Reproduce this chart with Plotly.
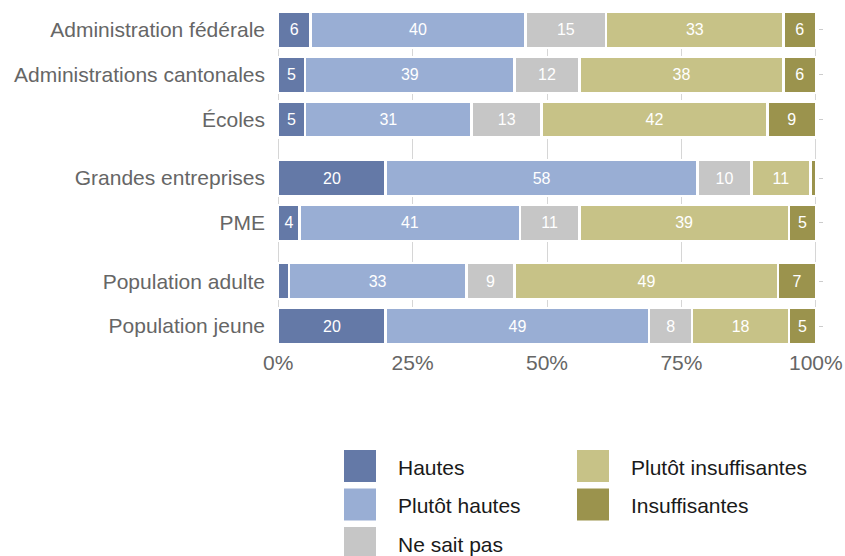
import plotly.graph_objects as go

# Categories, split into visual groups (a wider gap separates groups)
categories = [
    "Administration fédérale",
    "Administrations cantonales",
    "Écoles",
    "Grandes entreprises",
    "PME",
    "Population adulte",
    "Population jeune",
]
group_sizes = [3, 2, 2]

# Shares in percent per answer
series_names = ["Hautes", "Plutôt hautes", "Ne sait pas", "Plutôt insuffisantes", "Insuffisantes"]
hautes = [6, 5, 5, 20, 4, 2, 20]
plutot_hautes = [40, 39, 31, 58, 41, 33, 49]
ne_sait_pas = [15, 12, 13, 10, 11, 9, 8]
plutot_insuffisantes = [33, 38, 42, 11, 39, 49, 18]
insuffisantes = [6, 6, 9, 1, 5, 7, 5]
series_values = [hautes, plutot_hautes, ne_sait_pas, plutot_insuffisantes, insuffisantes]

x_ticks = [0, 25, 50, 75, 100]
x_tick_labels = ["0%", "25%", "50%", "75%", "100%"]

colors = ["#6479a7", "#99aed4", "#c6c6c6", "#c7c287", "#9b934d"]

FONT = "Liberation Sans, Helvetica, Arial, sans-serif"
W, H = 845, 556
L, R, T, B = 276, 27, 12, 212

# Row positions: one unit per bar, plus an extra gap between groups
GROUP_GAP = 0.3
positions = []
pos = 0.0
for gi, size in enumerate(group_sizes):
    for _ in range(size):
        positions.append(pos)
        pos += 1
    pos += GROUP_GAP
y_range = [positions[-1] + 0.4, positions[0] - 0.4]

fig = go.Figure()
for name, vals, col in zip(series_names, series_values, colors):
    fig.add_trace(go.Bar(
        name=name,
        orientation="h",
        x=vals,
        y=positions,
        width=0.8,
        marker=dict(color=col, line=dict(color="white", width=2.5)),
        text=[str(v) if v >= 3 else "" for v in vals],
        textposition="inside",
        insidetextanchor="middle",
        textangle=0,
        textfont=dict(color="white", size=16, family=FONT),
        hoverinfo="skip",
        showlegend=False,
    ))

# Invisible trace carrying the right-hand tick axis
fig.add_trace(go.Scatter(x=[None], y=[None], yaxis="y2", showlegend=False, hoverinfo="skip"))

fig.update_layout(
    width=W, height=H,
    margin=dict(l=L, r=R, t=T, b=B, autoexpand=False),
    barmode="stack",
    plot_bgcolor="white",
    paper_bgcolor="white",
    font=dict(family=FONT, size=21, color="#666666"),
    uniformtext=dict(minsize=16, mode="show"),
    xaxis=dict(
        range=[-0.4, 100.4],
        tickvals=x_ticks,
        ticktext=x_tick_labels,
        showgrid=True,
        gridcolor="#d6d6d6",
        gridwidth=1,
        zeroline=False,
        showline=False,
        ticks="",
        automargin=False,
        ticklabelstandoff=4,
        tickfont=dict(size=21, color="#666666"),
    ),
    yaxis=dict(
        range=y_range,
        tickvals=positions,
        ticktext=categories,
        showgrid=False,
        zeroline=False,
        showline=False,
        ticks="",
        automargin=False,
        ticklabelstandoff=10,
        tickfont=dict(size=21, color="#666666"),
    ),
    yaxis2=dict(
        overlaying="y",
        side="right",
        range=y_range,
        tickvals=positions,
        showticklabels=False,
        ticks="outside",
        ticklen=4,
        tickcolor="#cccccc",
        showgrid=False,
        zeroline=False,
        showline=False,
        automargin=False,
    ),
)

# Legend drawn as large square swatches in two columns
PW, PH = W - L - R, H - T - B


def px_x(px):
    return (px - L) / PW


def px_y(py):
    return (H - B - py) / PH


col_x = [344, 577]
row_top = 450
row_step = 38.5
sw = 32
for i, (name, col) in enumerate(zip(series_names, colors)):
    c, r = divmod(i, 3)
    x0 = col_x[c]
    y0 = row_top + r * row_step
    fig.add_shape(
        type="rect", xref="paper", yref="paper",
        x0=px_x(x0), x1=px_x(x0 + sw),
        y0=px_y(y0 + sw), y1=px_y(y0),
        fillcolor=col, line=dict(width=0), layer="above",
    )
    fig.add_annotation(
        xref="paper", yref="paper",
        x=px_x(x0 + sw + 20), y=px_y(y0 + sw / 2 + 1),
        text=name, showarrow=False,
        xanchor="left", yanchor="middle",
        font=dict(size=21, color="#1a1a1a", family=FONT),
    )

fig.write_html("out.html")
